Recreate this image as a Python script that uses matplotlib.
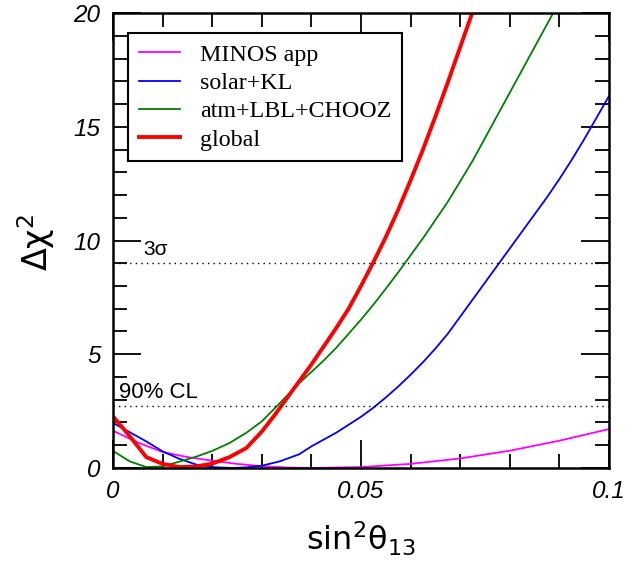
import matplotlib
matplotlib.use("Agg")
import matplotlib.pyplot as plt
from matplotlib.ticker import MultipleLocator

plt.rcParams['mathtext.fontset'] = 'custom'
plt.rcParams['mathtext.rm'] = 'Liberation Sans'
plt.rcParams['mathtext.it'] = 'Liberation Sans:italic'

# data
x_minos = [0, 0.005, 0.01, 0.015, 0.02, 0.025, 0.03, 0.035, 0.04, 0.05, 0.06, 0.07, 0.08, 0.09, 0.1]
y_minos = [1.64, 1.12, 0.70, 0.48, 0.32, 0.18, 0.08, 0.02, 0.0, 0.04, 0.18, 0.42, 0.76, 1.20, 1.71]

x_solar = [0, 0.0067, 0.01, 0.0134, 0.0168, 0.02, 0.0243, 0.0269, 0.03, 0.0336, 0.0375,
           0.04, 0.0425, 0.045, 0.0475, 0.05, 0.0525, 0.055, 0.0575, 0.06, 0.0625,
           0.065, 0.0675, 0.07, 0.0725, 0.075, 0.0775, 0.08, 0.0825, 0.085, 0.0875,
           0.09, 0.0925, 0.095, 0.0975, 0.1]
y_solar = [1.98, 1.17, 0.73, 0.40, 0.15, 0.04, 0.0, 0.03, 0.10, 0.29, 0.60,
           0.95, 1.25, 1.55, 1.90, 2.25, 2.65, 3.10, 3.58, 4.10, 4.65,
           5.25, 5.90, 6.65, 7.40, 8.15, 8.90, 9.65, 10.4, 11.15, 11.9,
           12.7, 13.55, 14.45, 15.4, 16.35]

x_atm = [0, 0.0034, 0.0067, 0.01, 0.0134, 0.0168, 0.02, 0.0235, 0.0269, 0.03, 0.0325,
         0.035, 0.0375, 0.04, 0.0425, 0.045, 0.0475, 0.05, 0.0525, 0.055, 0.0575,
         0.06, 0.0625, 0.065, 0.0675, 0.07, 0.0725, 0.075, 0.0775, 0.08, 0.0825,
         0.085, 0.0875, 0.09]
y_atm = [0.75, 0.29, 0.04, 0.07, 0.28, 0.50, 0.75, 1.10, 1.55, 2.05, 2.60,
         3.16, 3.72, 4.22, 4.73, 5.28, 5.90, 6.52, 7.18, 7.88, 8.60,
         9.35, 10.1, 10.9, 11.7, 12.6, 13.5, 14.5, 15.5, 16.5, 17.5,
         18.5, 19.5, 20.5]

x_glob = [0, 0.0034, 0.0067, 0.01, 0.0134, 0.0168, 0.02, 0.0235, 0.0269, 0.03, 0.0325,
          0.035, 0.0375, 0.04, 0.0425, 0.045, 0.0475, 0.05, 0.0525, 0.055, 0.0575,
          0.06, 0.0625, 0.065, 0.0675, 0.07, 0.0725, 0.075]
y_glob = [2.27, 1.39, 0.48, 0.18, 0.04, 0.07, 0.19, 0.48, 0.88, 1.60, 2.30,
          3.05, 3.80, 4.55, 5.35, 6.15, 7.00, 8.00, 9.05, 10.15, 11.35,
          12.65, 14.0, 15.45, 16.95, 18.5, 20.05, 21.6]

labels = ["MINOS app", "solar+KL", "atm+LBL+CHOOZ", "global"]
colors = ["#ff00ff", "#0000ff", "#008000", "#ff0000"]
cl_levels = [2.71, 9.0]
cl_labels = ["90% CL", "3σ"]
xticks = [0, 0.05, 0.1]
xticklabels = ["0", "0.05", "0.1"]
yticks = [0, 5, 10, 15, 20]

fig = plt.figure(figsize=(6.31, 5.71), dpi=100)
ax = fig.add_axes([0.1791, 0.1804, 0.9651 - 0.1791, 0.9772 - 0.1804])

ax.plot(x_minos, y_minos, color=colors[0], lw=1.3, label=labels[0])
ax.plot(x_solar, y_solar, color=colors[1], lw=1.3, label=labels[1])
ax.plot(x_atm, y_atm, color=colors[2], lw=1.3, label=labels[2])
ax.plot(x_glob, y_glob, color=colors[3], lw=2.8, label=labels[3])

for lev in cl_levels:
    ax.axhline(lev, color="black", lw=1.0, ls=(0, (1, 3)))

ax.text(0.0012, 2.85, cl_labels[0], fontsize=16, family="Liberation Sans", va="bottom", ha="left")
ax.text(0.0060, 9.2, cl_labels[1], fontsize=15, family="Liberation Sans", va="bottom", ha="left")

ax.set_xlim(0, 0.1)
ax.set_ylim(0, 20)
ax.set_xticks(xticks)
ax.set_xticklabels(xticklabels)
ax.set_yticks(yticks)
ax.xaxis.set_minor_locator(MultipleLocator(0.01))
ax.yaxis.set_minor_locator(MultipleLocator(1))
ax.tick_params(which="both", direction="in", top=True, right=True, width=1.3)
ax.tick_params(which="major", length=20, pad=9)
ax.tick_params(which="minor", length=10)
for lab in ax.get_xticklabels() + ax.get_yticklabels():
    lab.set_family("Liberation Sans")
    lab.set_style("italic")
    lab.set_fontsize(17.5)
for s in ax.spines.values():
    s.set_linewidth(1.8)

fig.text(0.5725, 0.022, r"$\mathregular{sin^2θ_{13}}$", fontsize=23, ha="center", va="bottom")
fig.text(0.058, 1 - 242 / 571, r"$\mathregular{Δχ^2}$", fontsize=24, rotation=90, ha="center", va="center")

leg = ax.legend(loc="upper left", bbox_to_anchor=(0.0302, 0.956), borderaxespad=0,
                prop={"family": "Liberation Serif", "size": 17.3},
                handlelength=1.7, handletextpad=0.85, labelspacing=0.27,
                borderpad=0.45, fancybox=False, framealpha=1)
leg.get_frame().set_edgecolor("black")
leg.get_frame().set_linewidth(1.5)

fig.savefig("out.png", dpi=100)
